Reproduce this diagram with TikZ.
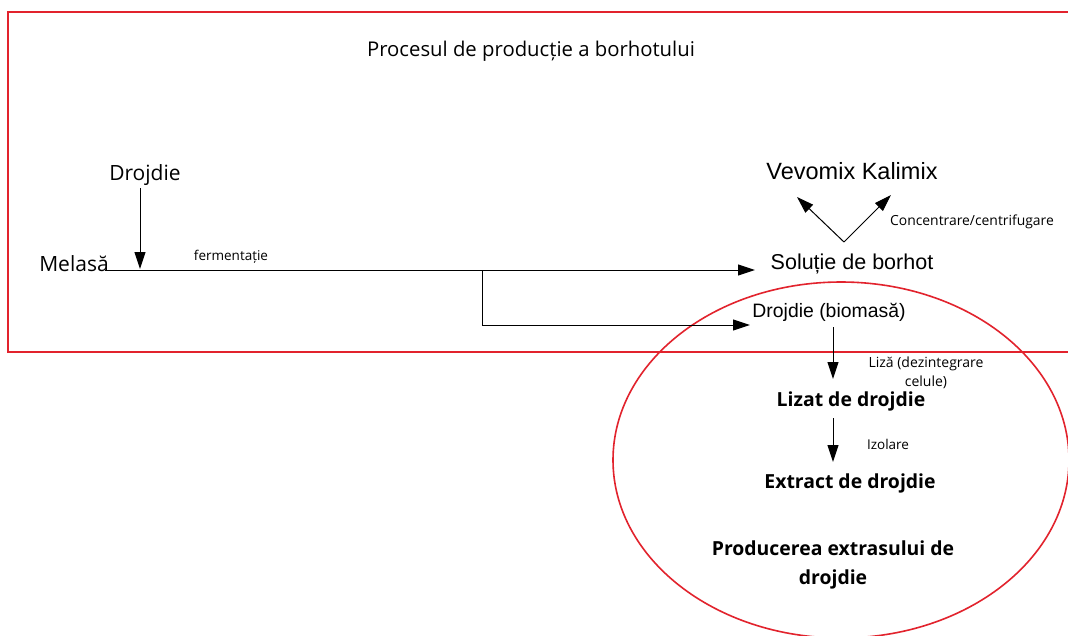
\documentclass[tikz,border=0pt]{standalone}
\usepackage{fontspec}
\setmainfont{Open Sans}
\newfontfamily\arialf{Liberation Sans}
\usetikzlibrary{arrows.meta}
\tikzset{
  redline/.style={draw={rgb,255:red,226;green,35;blue,45}, line width=1.6pt},
  flow/.style={line width=1pt, -{Triangle[length=17pt,width=11pt]}},
  lbl/.style={inner sep=0pt, align=center},
}
\begin{document}
\begin{tikzpicture}[x=1pt,y=-1pt]
\useasboundingbox (0,0) rectangle (1068,635);
\fill[white] (0,0) rectangle (1068,635);
\begin{scope}
\clip (0,0) rectangle (1068,635);
\draw[redline] (1090,12) -- (8,12) -- (8,352) -- (1090,352);
\draw[redline] (841,460) ellipse [x radius=228, y radius=178];
\end{scope}

\node[lbl, font=\fontsize{20.3}{23}\selectfont] (title) at (531,51) {Procesul de producție a borhotului};
\node[lbl, font=\fontsize{21}{24}\selectfont] (drojdie) at (145,175) {Drojdie};
\node[lbl, font=\fontsize{21}{24}\selectfont] (melasa) at (74,264) {Melasă};
\node[lbl, font=\fontsize{13.5}{15}\selectfont] (ferm) at (231,257) {fermentație};
\node[lbl, font=\arialf\fontsize{23.5}{27}\selectfont] (vevo) at (852,171) {Vevomix Kalimix};
\node[lbl, font=\arialf\fontsize{21.5}{25}\selectfont] (sol) at (852,263.5) {Soluție de borhot};
\node[lbl, font=\arialf\fontsize{19.4}{22}\selectfont] (bio) at (829,312) {Drojdie (biomasă)};
\node[lbl, font=\fontsize{13.9}{16}\selectfont] (conc) at (972,222) {Concentrare/centrifugare};
\node[lbl, font=\fontsize{14}{19}\selectfont] (liza) at (926,372.5) {Liză (dezintegrare\\celule)};
\node[lbl, font=\bfseries\fontsize{19.4}{24}\selectfont] (lizat) at (851,401) {Lizat de drojdie};
\node[lbl, font=\fontsize{13.5}{15}\selectfont] (izol) at (888,444) {Izolare};
\node[lbl, font=\bfseries\fontsize{19.4}{24}\selectfont] (extr) at (850,483) {Extract de drojdie};
\node[lbl, font=\bfseries\fontsize{19.4}{29}\selectfont] (prod) at (833,565) {Producerea extrasului de\\drojdie};

% connector coordinates
\coordinate (dA) at (140,188);
\coordinate (dB) at (140,269);
\coordinate (mA) at (105,270);
\coordinate (mB) at (755,270);
\coordinate (br) at (482,270);
\coordinate (brC) at (482,325);
\coordinate (brB) at (750,325);
\coordinate (vV) at (844,242);
\coordinate (vL) at (797,197);
\coordinate (vR) at (891,195);
\coordinate (bA) at (833,327);
\coordinate (bB) at (833,379);
\coordinate (lA) at (833,418);
\coordinate (lB) at (833,462);

\draw[flow] (dA) -- (dB);
\draw[flow] (mA) -- (mB);
\draw[flow] (br) -- (brC) -- (brB);
\draw[flow] (vV) -- (vL);
\draw[flow] (vV) -- (vR);
\draw[flow] (bA) -- (bB);
\draw[flow] (lA) -- (lB);
\end{tikzpicture}
\end{document}
